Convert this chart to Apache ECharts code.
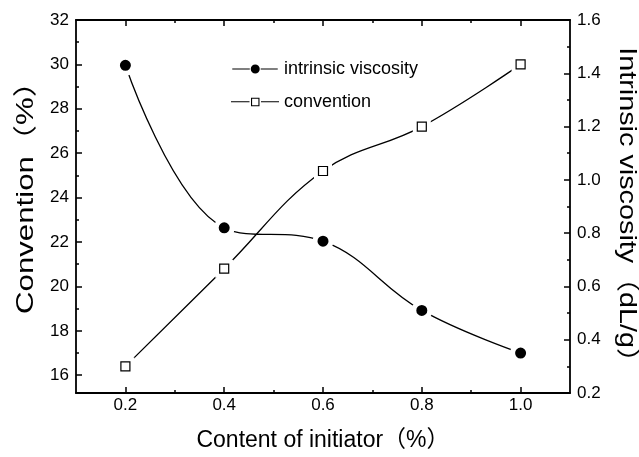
<!DOCTYPE html>
<html>
<head>
<meta charset="utf-8">
<script src="https://cdn.jsdelivr.net/npm/echarts@6/dist/echarts.min.js"></script>
<style>html,body{margin:0;padding:0;background:#fff}#c{width:639px;height:457px}</style>
</head>
<body>
<div id="c"></div>
<script>
const xValues = [0.2, 0.4, 0.6, 0.8, 1.0];
const conventionValues = [16.4, 20.8, 25.2, 27.2, 30.0];
const viscosityValues = [1.43, 0.82, 0.77, 0.51, 0.35];
const xMajorTicks = [0.2, 0.4, 0.6, 0.8, 1.0];
const xMinorTicks = [0.3, 0.5, 0.7, 0.9];
const leftMajorTicks = [16, 18, 20, 22, 24, 26, 28, 30, 32];
const leftMinorTicks = [17, 19, 21, 23, 25, 27, 29, 31];
const rightMajorTicks = [0.2, 0.4, 0.6, 0.8, 1.0, 1.2, 1.4, 1.6];
const rightMinorTicks = [0.3, 0.5, 0.7, 0.9, 1.1, 1.3, 1.5];
const xTitle = 'Content of initiator（%）';
const leftTitle = 'Convention（%）';
const rightTitle = 'Intrinsic viscosity（dL/g）';

const FONT = '"Liberation Sans", Arial, "Noto Sans CJK SC", sans-serif';
const BLACK = '#000';
const AXW = 1.8;
const TICKFS = 17;
const TITLEFS = 23;

const convPairs = xValues.map((x, i) => [x, conventionValues[i]]);
const viscPairs = xValues.map((x, i) => [x, viscosityValues[i]]);

const circIcon = 'path://M0,4.4 L18.5,4.4 L18.5,5.6 L0,5.6 Z M30,4.4 L48,4.4 L48,5.6 L30,5.6 Z M19.5,5 A4.75,4.75 0 1,1 29,5 A4.75,4.75 0 1,1 19.5,5 Z';
const sqIcon = 'path://M0,4.4 L18.5,4.4 L18.5,5.6 L0,5.6 Z M30,4.4 L48,4.4 L48,5.6 L30,5.6 Z M20,1 L28.5,1 L28.5,9.5 L20,9.5 Z M21.1,2.1 L21.1,8.4 L27.4,8.4 L27.4,2.1 Z';

function xAx(pos, ticks, len, showLine, showLabel, extra) {
  return Object.assign({
    type: 'value', position: pos, min: 0.1, max: 1.1, gridIndex: 0,
    axisLine: { show: showLine, onZero: false, lineStyle: { color: BLACK, width: AXW } },
    axisTick: { show: true, inside: true, length: len, customValues: ticks, lineStyle: { color: BLACK, width: 1.5 } },
    axisLabel: showLabel ? { show: true, customValues: ticks, formatter: v => v.toFixed(1), color: BLACK, fontSize: TICKFS, fontFamily: FONT, margin: 4 } : { show: false },
    splitLine: { show: false }
  }, extra || {});
}
function yAx(pos, min, max, ticks, len, showLine, showLabel, fmt, extra) {
  return Object.assign({
    type: 'value', position: pos, min: min, max: max, gridIndex: 0,
    axisLine: { show: showLine, onZero: false, lineStyle: { color: BLACK, width: AXW } },
    axisTick: { show: true, inside: true, length: len, customValues: ticks, lineStyle: { color: BLACK, width: 1.5 } },
    axisLabel: showLabel ? { show: true, customValues: ticks, formatter: fmt, color: BLACK, fontSize: TICKFS, fontFamily: FONT, margin: 7 } : { show: false },
    splitLine: { show: false }
  }, extra || {});
}

function vTitle(text, x, y, rot, sx) {
  return {
    type: 'text', x: x, y: y, rotation: rot, scaleX: sx, silent: true,
    style: { text: text, font: '24px ' + FONT, fill: BLACK, align: 'center', verticalAlign: 'middle', textAlign: 'center', textVerticalAlign: 'middle' }
  };
}

const option = {
  animation: false,
  backgroundColor: '#fff',
  grid: { left: 76, right: 69, top: 20, bottom: 64, containLabel: false },
  legend: {
    orient: 'vertical', left: 226, top: 55,
    itemWidth: 48, itemHeight: 9, itemGap: 15,
    textStyle: { color: BLACK, fontSize: 18, fontFamily: FONT },
    data: [
      { name: 'intrinsic viscosity', icon: circIcon, itemStyle: { color: BLACK, borderWidth: 0 } },
      { name: 'convention', icon: sqIcon, itemStyle: { color: BLACK, borderWidth: 0 } }
    ]
  },
  graphic: [
    vTitle(leftTitle, 26, 190, Math.PI / 2, 1.3),
    vTitle(rightTitle, 627, 212, -Math.PI / 2, 1.2)
  ],
  xAxis: [
    xAx('bottom', xMajorTicks, 6, true, true, {
      name: xTitle, nameLocation: 'middle', nameGap: 36,
      nameTextStyle: { color: BLACK, fontSize: TITLEFS, fontFamily: FONT }
    }),
    xAx('bottom', xMinorTicks, 3, false, false),
    xAx('top', xMajorTicks, 6, true, false),
    xAx('top', xMinorTicks, 3, false, false)
  ],
  yAxis: [
    yAx('left', 15.2, 32, leftMajorTicks, 6, true, true, v => String(v)),
    yAx('right', 0.2, 1.6, rightMajorTicks, 6, true, true, v => v.toFixed(1)),
    yAx('left', 15.2, 32, leftMinorTicks, 3, false, false),
    yAx('right', 0.2, 1.6, rightMinorTicks, 3, false, false)
  ],
  series: [
    {
      name: 'convention', type: 'line', xAxisIndex: 0, yAxisIndex: 0, data: convPairs,
      smooth: 0.4, symbol: 'rect', symbolSize: 9,
      itemStyle: { color: '#fff', borderColor: '#fff', borderWidth: 9 },
      lineStyle: { color: BLACK, width: 1.3 }, z: 2, silent: true
    },
    {
      name: 'convention-marker', type: 'scatter', xAxisIndex: 0, yAxisIndex: 0, data: convPairs,
      symbol: 'rect', symbolSize: 9,
      itemStyle: { color: '#fff', borderColor: BLACK, borderWidth: 1.2, opacity: 1 }, z: 5, silent: true
    },
    {
      name: 'intrinsic viscosity', type: 'line', xAxisIndex: 0, yAxisIndex: 1, data: viscPairs,
      smooth: 0.4, symbol: 'circle', symbolSize: 16,
      itemStyle: { color: BLACK, borderColor: '#fff', borderWidth: 5 },
      lineStyle: { color: BLACK, width: 1.3 }, z: 3, silent: true
    }
  ]
};

const chart = echarts.init(document.getElementById('c'), null, { renderer: 'canvas' });
chart.setOption(option);
</script>
</body>
</html>
